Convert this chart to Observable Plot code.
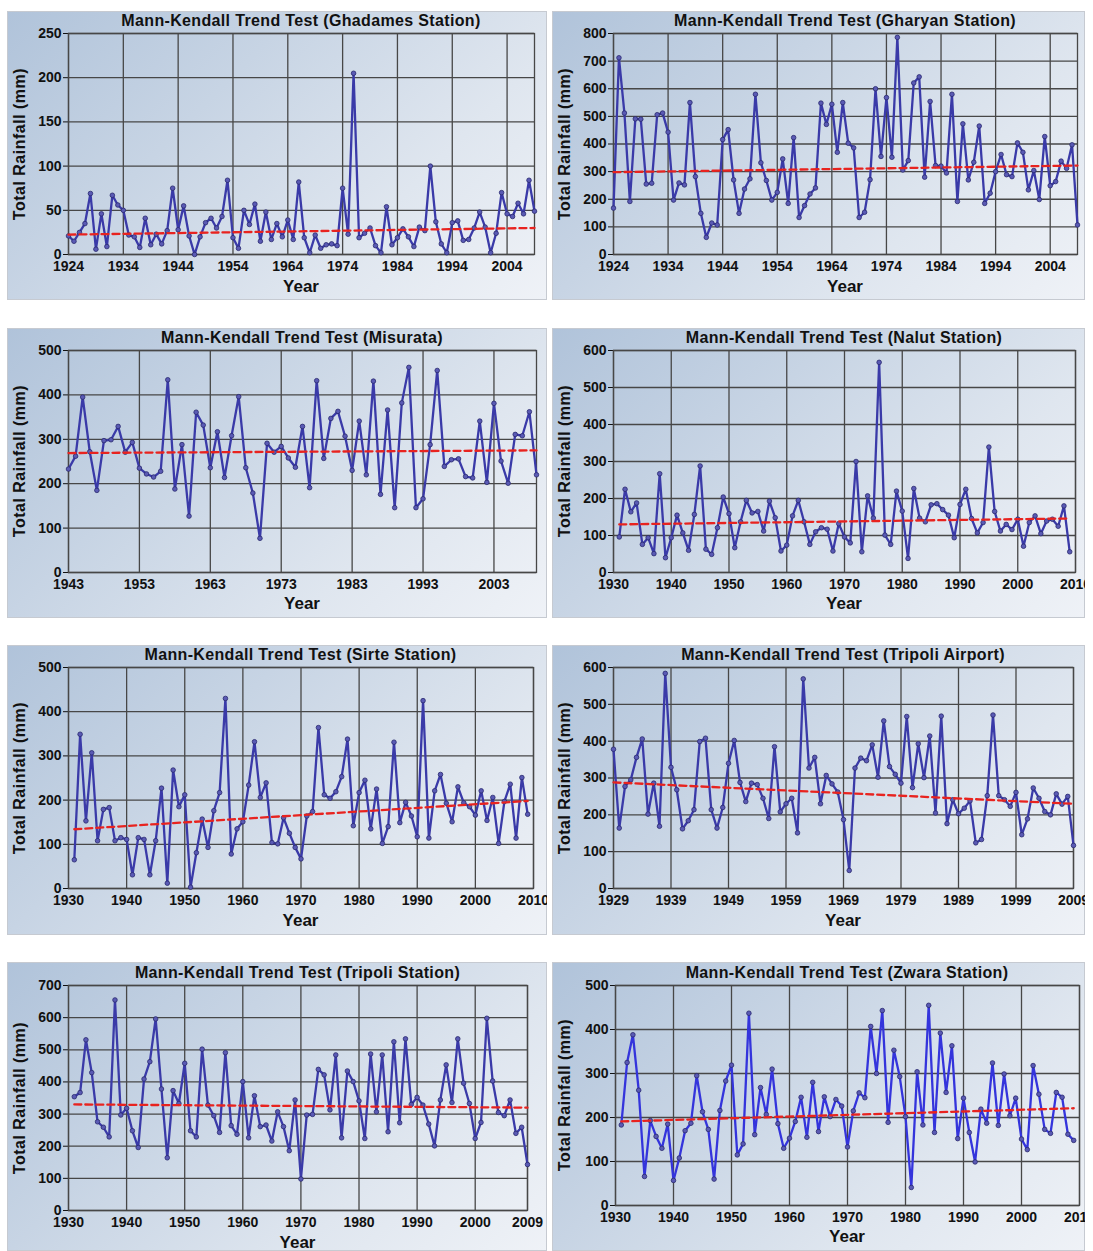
<!DOCTYPE html>
<html>
<head>
<meta charset="utf-8">
<script src="https://cdn.jsdelivr.net/npm/d3@7"></script>
<script src="https://cdn.jsdelivr.net/npm/@observablehq/plot@0.6"></script>
<style>
  body { margin: 0; background: #ffffff; font-family: "Liberation Sans", Arial, sans-serif; }
  #root { position: relative; width: 1093px; height: 1251px; overflow: hidden; background: #fff; }
  .panel { position: absolute; overflow: hidden;
    background: linear-gradient(135deg, #b0c3da 0%, #c7d4e4 35%, #dfe6ef 70%, #eff2f7 100%);
    box-shadow: inset 0 0 0 1px #c6cad1; }
  .panel svg { position: absolute; left: 0; top: 0; max-width: none !important; }
  .title { position: absolute; font-weight: bold; font-size: 16px; letter-spacing: 0.35px; white-space: nowrap; transform: translateX(-50%); color: #111; line-height: 18px; }
  .xlab { position: absolute; font-weight: bold; font-size: 17px; white-space: nowrap; transform: translateX(-50%); color: #111; line-height: 19px; }
  .ylab { position: absolute; font-weight: bold; font-size: 16px; letter-spacing: 0.5px; white-space: nowrap; color: #111; line-height: 18px; transform: translate(-50%, -50%) rotate(-90deg); }
</style>
</head>
<body>
<div id="root"></div>
<script>
// ---------------- DATA ----------------
const ghadamesStart = 1924;
const ghadamesRain = [21,15,25,35,69,6,46,9,67,56, 50,22,20,8,41,11,23,12,27,75, 28,55,21,0,20,36,41,30,43,84, 19,7,50,34,57,15,48,17,35,20, 39,17,82,19,2,22,7,11,12,10, 75,23,205,19,24,30,10,2,54,11, 19,29,20,9,31,27,100,37,12,2, 36,38,16,17,30,48,31,2,24,70, 46,43,58,46,84,49];
const ghadamesTrend = [22.5, 30];
const ghadamesXTicks = [1924,1934,1944,1954,1964,1974,1984,1994,2004];
const ghadamesYTicks = [0,50,100,150,200,250];

const gharyanStart = 1924;
const gharyanRain = [168,712,512,192,491,490,255,258,506,512, 443,197,259,252,550,282,149,62,114,107, 416,452,270,149,237,274,580,332,268,197, 225,346,185,423,134,177,219,241,548,471, 544,370,550,403,386,134,153,271,600,355, 568,352,786,306,340,621,643,280,554,322, 320,295,580,192,473,270,334,465,185,222, 300,362,289,282,404,370,234,304,199,427, 249,264,338,312,397,107];
const gharyanTrend = [298, 322];
const gharyanXTicks = [1924,1934,1944,1954,1964,1974,1984,1994,2004];
const gharyanYTicks = [0,100,200,300,400,500,600,700,800];

const misurataStart = 1943;
const misurataRain = [233,262,395,272,185,297,299,329,271,293, 235,222,215,228,434,188,288,127,361,332, 236,317,214,308,396,236,179,77,291,271, 284,258,237,329,191,432,257,347,363,307, 230,341,220,431,176,366,146,382,462,146, 166,288,455,239,254,256,216,213,341,203, 381,251,201,311,308,362,220];
const misurataTrend = [269, 275];
const misurataXTicks = [1943,1953,1963,1973,1983,1993,2003];
const misurataYTicks = [0,100,200,300,400,500];

const nalutStart = 1931;
const nalutRain = [96,225,164,188,76,94,51,267,40,94, 155,107,60,157,288,63,49,121,204,159, 67,137,195,161,165,112,193,148,58,74, 153,195,137,76,110,121,117,58,132,96, 80,300,56,207,147,568,101,76,220,166, 38,227,147,137,183,186,170,155,94,184, 225,146,107,135,339,165,112,130,116,144, 71,135,153,105,139,144,125,180,56];
const nalutTrend = [130, 146];
const nalutXTicks = [1930,1940,1950,1960,1970,1980,1990,2000,2010];
const nalutYTicks = [0,100,200,300,400,500,600];

const sirteStart = 1931;
const sirteRain = [65,349,153,307,108,179,183,108,115,111, 31,115,111,31,108,227,12,268,185,212, 3,81,157,93,176,217,430,78,135,151, 234,332,206,239,104,101,160,125,93,67, 164,174,364,212,204,219,253,338,142,217, 245,135,225,102,140,331,149,195,164,117, 425,114,221,258,193,151,230,194,185,166, 221,154,206,102,197,236,114,251,168];
const sirteTrend = [134, 198];
const sirteXTicks = [1930,1940,1950,1960,1970,1980,1990,2000,2010];
const sirteYTicks = [0,100,200,300,400,500];

const airportStart = 1929;
const airportRain = [378,164,277,295,356,406,202,286,169,584, 329,268,162,184,214,399,408,214,164,220, 340,402,288,236,286,282,245,190,385,208, 230,245,151,569,327,356,230,307,284,262, 187,49,327,354,347,390,302,455,331,310, 286,467,274,393,301,414,205,468,176,241, 203,218,238,124,133,252,471,252,241,223, 261,146,189,273,245,209,200,257,229,250, 117];
const airportTrend = [288, 230];
const airportXTicks = [1929,1939,1949,1959,1969,1979,1989,1999,2009];
const airportYTicks = [0,100,200,300,400,500,600];

const tripoliStart = 1931;
const tripoliRain = [354,367,531,429,276,259,229,655,297,318, 248,196,409,463,596,378,164,373,333,458, 248,229,502,328,295,243,491,264,237,401, 226,357,261,266,216,307,261,186,344,98, 297,299,439,422,313,484,226,434,401,341, 224,487,307,484,245,525,273,534,330,352, 328,269,201,344,453,336,534,396,333,224, 274,598,403,305,295,344,240,259,143];
const tripoliTrend = [330, 320];
const tripoliXTicks = [1930,1940,1950,1960,1970,1980,1990,2000,2009];
const tripoliYTicks = [0,100,200,300,400,500,600,700];

const zwaraStart = 1931;
const zwaraRain = [183,325,388,262,66,193,157,130,185,57, 108,170,187,295,213,173,60,216,283,319, 115,140,437,161,268,207,310,186,130,153, 191,246,155,280,168,247,202,241,226,133, 215,256,245,407,300,443,189,353,293,202, 41,304,183,455,166,392,257,363,152,244, 166,99,219,187,324,182,299,204,244,151, 127,318,253,173,164,257,246,162,148];
const zwaraTrend = [191, 221];
const zwaraXTicks = [1930,1940,1950,1960,1970,1980,1990,2000,2010];
const zwaraYTicks = [0,100,200,300,400,500];

// ---------------- LAYOUT ----------------
const panels = [
  {name:"Ghadames Station", start:ghadamesStart, rain:ghadamesRain, trend:ghadamesTrend, xt:ghadamesXTicks, yt:ghadamesYTicks, xEnd:2009,
   box:[7,11,540,289], m:[22,13,46,61], xlabTop:266, color:"#3a3aa8"},
  {name:"Gharyan Station", start:gharyanStart, rain:gharyanRain, trend:gharyanTrend, xt:gharyanXTicks, yt:gharyanYTicks, xEnd:2009,
   box:[552,11,533,289], m:[22,8,46,61], xlabTop:266, color:"#3a3aa8"},
  {name:"Misurata", start:misurataStart, rain:misurataRain, trend:misurataTrend, xt:misurataXTicks, yt:misurataYTicks, xEnd:2009,
   box:[7,328,540,290], m:[22,11,46,61], xlabTop:266, color:"#3a3aa8"},
  {name:"Nalut Station", start:nalutStart, rain:nalutRain, trend:nalutTrend, xt:nalutXTicks, yt:nalutYTicks, xEnd:2010,
   box:[552,328,533,290], m:[22,10,46,61], xlabTop:266, color:"#3a3aa8"},
  {name:"Sirte Station", start:sirteStart, rain:sirteRain, trend:sirteTrend, xt:sirteXTicks, yt:sirteYTicks, xEnd:2010,
   box:[7,645,540,290], m:[22,14,47,61], xlabTop:266, color:"#3a3aa8"},
  {name:"Tripoli Airport", start:airportStart, rain:airportRain, trend:airportTrend, xt:airportXTicks, yt:airportYTicks, xEnd:2009,
   box:[552,645,533,290], m:[22,12,47,61], xlabTop:266, color:"#3a3aa8"},
  {name:"Tripoli Station", start:tripoliStart, rain:tripoliRain, trend:tripoliTrend, xt:tripoliXTicks, yt:tripoliYTicks, xEnd:2009,
   box:[7,962,540,289], m:[23,20,41,61], xlabTop:271, color:"#3a3aa8"},
  {name:"Zwara Station", start:zwaraStart, rain:zwaraRain, trend:zwaraTrend, xt:zwaraXTicks, yt:zwaraYTicks, xEnd:2010,
   box:[552,962,533,289], m:[23,6,46,63], xlabTop:265, color:"#3434dc"}
];

const root = document.getElementById("root");
const gridColor = "#474747";

for (const p of panels) {
  const [L, T, W, H] = p.box;
  const [mt, mr, mb, ml] = p.m;
  const div = document.createElement("div");
  div.className = "panel";
  Object.assign(div.style, {left: L + "px", top: T + "px", width: W + "px", height: H + "px"});

  const series = p.rain.map((v, i) => ({year: p.start + i, value: v}));
  const lastYear = p.start + p.rain.length - 1;
  const trendData = [{year: p.start, value: p.trend[0]}, {year: lastYear, value: p.trend[1]}];
  const xStart = p.xt[0];

  const chart = Plot.plot({
    width: W, height: H,
    marginTop: mt, marginRight: mr, marginBottom: mb, marginLeft: ml,
    style: {background: "transparent", fontFamily: "'Liberation Sans', Arial, sans-serif", fontSize: "14px", fontWeight: "bold", color: "#111", overflow: "visible"},
    x: {domain: [xStart, p.xEnd], ticks: p.xt, tickFormat: d => String(d), tickSize: 0, tickPadding: 7, label: null},
    y: {domain: [0, p.yt[p.yt.length - 1]], ticks: p.yt, tickFormat: d => String(d), tickSize: 5, tickPadding: 2, label: null},
    marks: [
      Plot.ruleX(p.xt, {stroke: gridColor, strokeWidth: 1.3}),
      Plot.ruleY(p.yt, {stroke: gridColor, strokeWidth: 1.3}),
      Plot.frame({stroke: gridColor, strokeWidth: 1.3}),
      Plot.line(series, {x: "year", y: "value", stroke: p.color, strokeWidth: 2.3}),
      Plot.dot(series, {x: "year", y: "value", r: 2.3, fill: "#5a5ab4", stroke: "#28286e", strokeWidth: 0.8}),
      Plot.line(trendData, {x: "year", y: "value", stroke: "#e8231f", strokeWidth: 2.3, strokeDasharray: "7,4"})
    ]
  });
  div.appendChild(chart);

  const cx = ml + (W - ml - mr) / 2;
  const cy = mt + (H - mt - mb) / 2;

  const title = document.createElement("div");
  title.className = "title";
  title.textContent = "Mann-Kendall Trend Test (" + p.name + ")";
  Object.assign(title.style, {left: cx + "px", top: (mt - 21) + "px"});
  div.appendChild(title);

  const xl = document.createElement("div");
  xl.className = "xlab";
  xl.textContent = "Year";
  Object.assign(xl.style, {left: cx + "px", top: p.xlabTop + "px"});
  div.appendChild(xl);

  const yl = document.createElement("div");
  yl.className = "ylab";
  yl.textContent = "Total Rainfall (mm)";
  Object.assign(yl.style, {left: "13px", top: cy + "px"});
  div.appendChild(yl);

  root.appendChild(div);
}
</script>
</body>
</html>
